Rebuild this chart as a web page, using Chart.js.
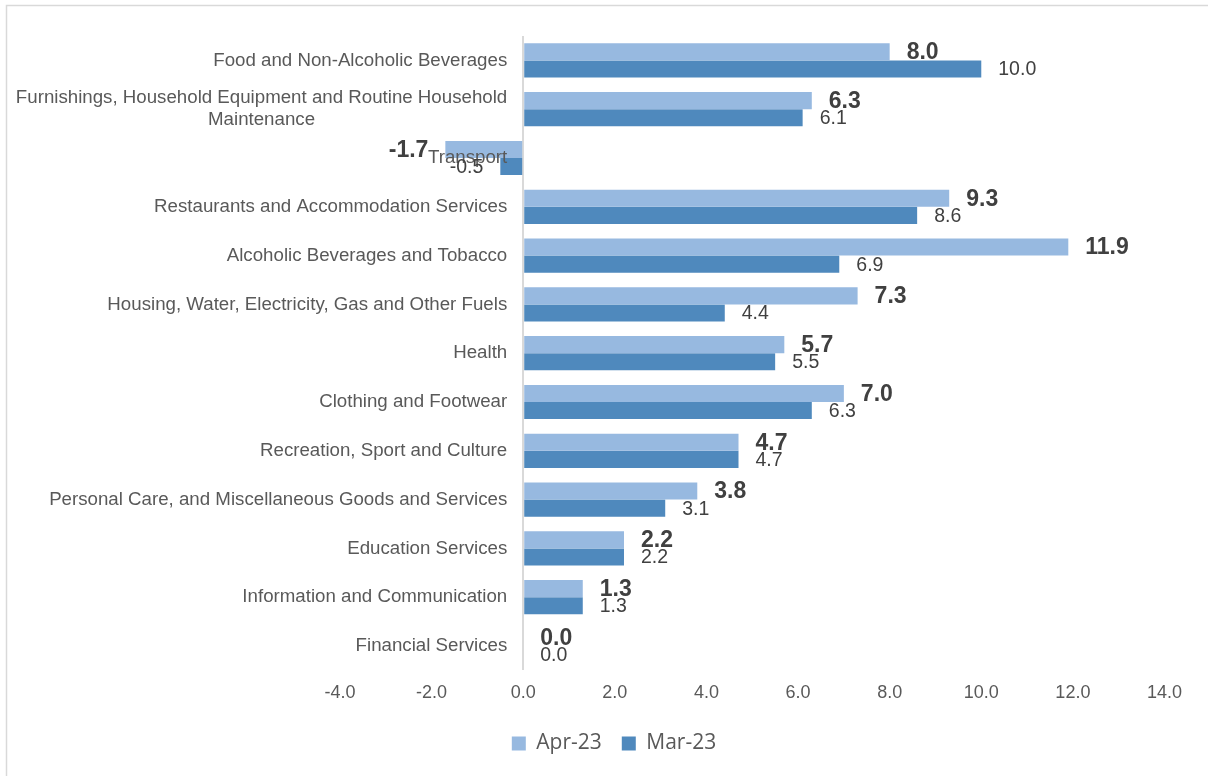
<!DOCTYPE html>
<html><head><meta charset="utf-8">
<script src="https://cdn.jsdelivr.net/npm/chart.js@4/dist/chart.umd.min.js"></script>
<style>html,body{margin:0;padding:0;background:#fff;}#wrap{width:1208px;height:776px;}</style>
</head><body><div id="wrap"><canvas id="c" width="1208" height="776"></canvas></div>
<script>
const categories = [
  'Food and Non-Alcoholic Beverages',
  ['Furnishings, Household Equipment and Routine Household', 'Maintenance'],
  'Transport',
  'Restaurants and Accommodation Services',
  'Alcoholic Beverages and Tobacco',
  'Housing, Water, Electricity, Gas and Other Fuels',
  'Health',
  'Clothing and Footwear',
  'Recreation, Sport and Culture',
  'Personal Care, and Miscellaneous Goods and Services',
  'Education Services',
  'Information and Communication',
  'Financial Services'
];
const apr23 = [8.0, 6.3, -1.7, 9.3, 11.9, 7.3, 5.7, 7.0, 4.7, 3.8, 2.2, 1.3, 0.0];
const mar23 = [10.0, 6.1, -0.5, 8.6, 6.9, 4.4, 5.5, 6.3, 4.7, 3.1, 2.2, 1.3, 0.0];
const seriesNames = ['Apr-23', 'Mar-23'];
const xMin = -4, xMax = 14, xStep = 2;

const FONT = '"Liberation Sans", Arial, sans-serif';

const frame = {
  id: 'frame',
  beforeDraw(chart) {
    const ctx = chart.ctx;
    ctx.save();
    ctx.fillStyle = '#ffffff';
    ctx.fillRect(0, 0, chart.width, chart.height);
    ctx.strokeStyle = '#d9d9d9';
    ctx.lineWidth = 1.5;
    ctx.strokeRect(6.5, 5.5, chart.width + 10, chart.height + 10);
    ctx.restore();
  }
};

const categoryLabels = {
  id: 'categoryLabels',
  afterDatasetsDraw(chart) {
    const ctx = chart.ctx, ys = chart.scales.y, xs = chart.scales.x;
    const right = xs.getPixelForValue(0) - 16;
    ctx.save();
    ctx.font = '18.7px ' + FONT;
    ctx.fillStyle = '#595959';
    ctx.textBaseline = 'middle';
    ctx.textAlign = 'center';
    const lh = 22;
    categories.forEach((lab, i) => {
      const lines = Array.isArray(lab) ? lab : [lab];
      const w = Math.max(...lines.map(l => ctx.measureText(l).width));
      const cx = right - w / 2;
      const cy = ys.getPixelForValue(i);
      lines.forEach((l, j) => ctx.fillText(l, cx, cy + (j - (lines.length - 1) / 2) * lh));
    });
    ctx.restore();
  }
};

const valueLabels = {
  id: 'valueLabels',
  afterDatasetsDraw(chart) {
    const ctx = chart.ctx;
    ctx.save();
    ctx.textBaseline = 'middle';
    chart.data.datasets.forEach((ds, di) => {
      const meta = chart.getDatasetMeta(di);
      ctx.font = (di === 0 ? 'bold 23px ' : '19.5px ') + FONT;
      ctx.fillStyle = '#404040';
      meta.data.forEach((bar, i) => {
        const v = ds.data[i];
        const txt = v.toFixed(1);
        if (v < 0) {
          ctx.textAlign = 'right';
          ctx.fillText(txt, bar.x - 17, bar.y + 1);
        } else {
          ctx.textAlign = 'left';
          ctx.fillText(txt, bar.x + 17, bar.y + 1);
        }
      });
    });
    ctx.restore();
  }
};

new Chart(document.getElementById('c'), {
  type: 'bar',
  data: {
    labels: categories,
    datasets: [
      { label: seriesNames[0], data: apr23, backgroundColor: '#97b9e0', borderWidth: 0, yAxisID: 'y' },
      { label: seriesNames[1], data: mar23, backgroundColor: '#4f89bd', borderWidth: 0, yAxisID: 'y' }
    ]
  },
  options: {
    indexAxis: 'y',
    responsive: false,
    animation: false,
    devicePixelRatio: 1,
    layout: { padding: { top: 36, left: 20, right: 0, bottom: 12 } },
    datasets: { bar: { categoryPercentage: 0.7, barPercentage: 1.0 } },
    scales: {
      y: {
        type: 'category', position: 'left', offset: true,
        ticks: { display: false },
        grid: { display: false, drawTicks: false },
        border: { display: false },
        afterFit: s => { s.width = 320; }
      },
      yRight: {
        type: 'linear', position: 'right', axis: 'y',
        ticks: { display: false },
        grid: { display: false, drawTicks: false },
        border: { display: false },
        afterFit: s => { s.width = 43.5; }
      },
      x: {
        type: 'linear', min: xMin, max: xMax,
        border: { display: false },
        grid: {
          drawTicks: false,
          lineWidth: 2,
          color: c => (c.tick && c.tick.value === 0) ? '#d9d9d9' : 'rgba(0,0,0,0)'
        },
        ticks: {
          stepSize: xStep, padding: 12, color: '#595959',
          font: { family: FONT, size: 18 },
          callback: v => Number(v).toFixed(1)
        },
        afterFit: s => { s.height = s.height - 3; }
      }
    },
    plugins: {
      tooltip: { enabled: false },
      legend: {
        position: 'bottom',
        labels: {
          boxWidth: 14, boxHeight: 14, padding: 20, color: '#595959',
          font: { family: '"Open Sans", sans-serif', size: 21 }
        }
      }
    }
  },
  plugins: [frame, categoryLabels, valueLabels]
});
</script></body></html>
